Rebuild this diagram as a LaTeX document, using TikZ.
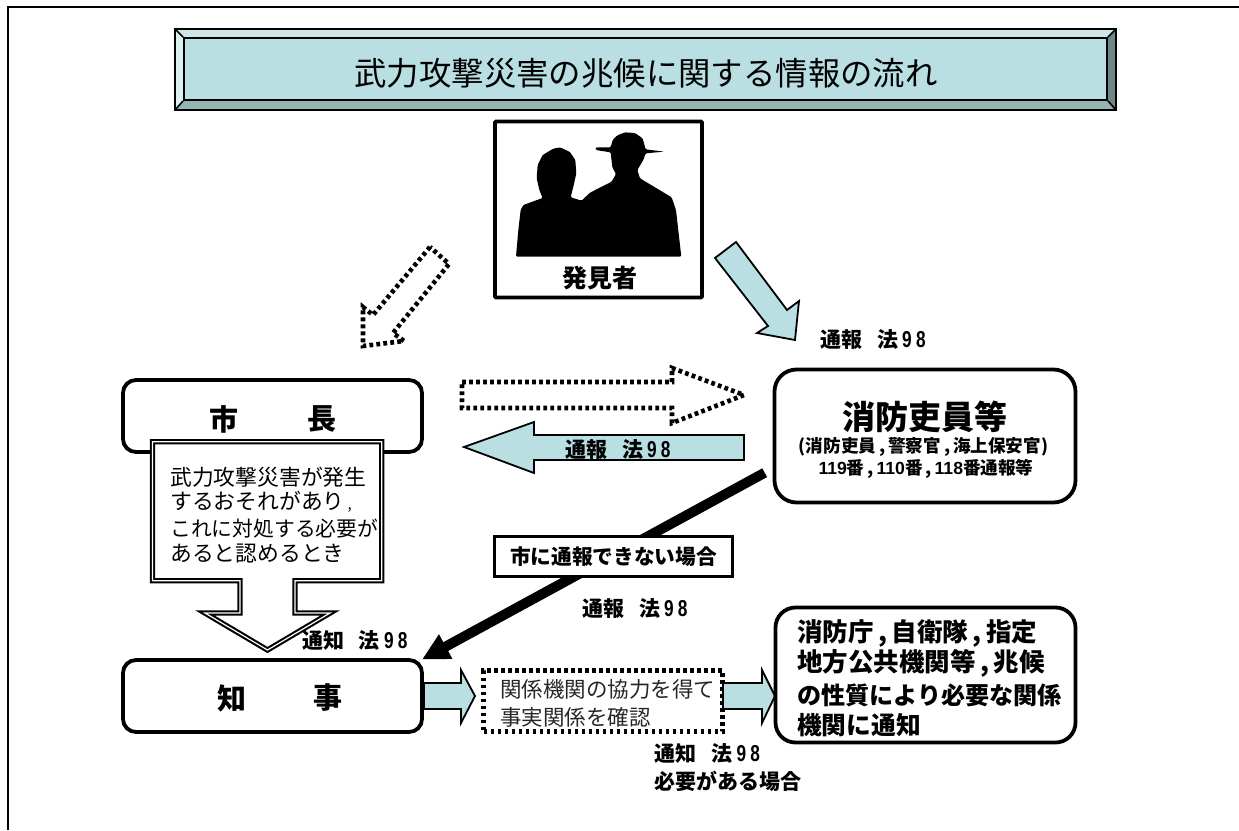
\documentclass[tikz,border=0pt]{standalone}
\usepackage{fontspec}
\usetikzlibrary{arrows.meta}
\setmainfont{Noto Sans CJK JP}
\newfontfamily\digitfont[FakeStretch=0.75]{Liberation Sans}
\newfontfamily\arialfont{Liberation Sans}
\definecolor{face}{HTML}{B9DFE3}
\definecolor{bevtop}{HTML}{CCE7E9}
\definecolor{bevleft}{HTML}{DCEFF1}
\definecolor{bevbot}{HTML}{97B2B5}
\definecolor{bevright}{HTML}{708587}
\newcommand{\fsz}[1]{\fontsize{#1pt}{#1pt}\selectfont}
\newcommand{\lawtext}[1]{\bfseries #1\hspace{15pt}法\hspace{4pt}{\digitfont\fsz{23}\makebox[14pt][l]{9}\makebox[10pt][l]{8}}}
\newcommand{\cm}{\hspace{4.5pt},\hspace{4.5pt}}
\tikzset{
  x=1pt,y=-1pt,
  roundbox/.style={draw=black,line width=3.8pt,fill=white,inner sep=0pt,align=center},
  dotline/.style={draw=black,line width=4.6pt,dash pattern=on 3.8pt off 3.2pt},
  cyanarrow/.style={draw=black,line width=1.8pt,fill=face,line join=miter},
  lawlabel/.style={inner sep=0pt,anchor=center,font=\fsz{21}},
  plain/.style={inner sep=0pt,anchor=west,align=left},
}
\begin{document}
\begin{tikzpicture}
\useasboundingbox (0,0) rectangle (1239,830);
\fill[white] (0,0) rectangle (1239,830);
% page frame
\draw[line width=2.6pt] (8,830) -- (8,7) -- (1239,7);
% title
\fill[bevtop] (175,29) -- (1116,29) -- (1107,38) -- (184,38) -- cycle;
\fill[bevleft] (175,29) -- (184,38) -- (184,100) -- (175,110) -- cycle;
\fill[bevbot] (175,110) -- (184,100) -- (1107,100) -- (1116,110) -- cycle;
\fill[bevright] (1116,29) -- (1107,38) -- (1107,100) -- (1116,110) -- cycle;
\draw[line width=2pt] (175,29) rectangle (1116,110);
\node[draw=black,line width=2pt,fill=face,minimum width=923pt,minimum height=62pt,inner sep=0pt] (title) at (645.5,69) {};
\node[inner sep=0pt,font=\fsz{32.4}] (titletext) at (646,73) {武力攻撃災害の兆候に関する情報の流れ};
\draw[line width=1.6pt] (175,29) -- (title.north west) (1116,29) -- (title.north east) (175,110) -- (title.south west) (1116,110) -- (title.south east);
% finder
\node[draw=black,line width=3.8pt,fill=white,rounded corners=1pt,minimum width=207pt,minimum height=176pt,inner sep=0pt] (finder) at (598.5,209.5) {};
\begin{scope}[shift={(480,110)},x=.3333pt,y=-.3333pt]
\fill[black,rounded corners=1.2pt] (108,440) -- (115,360) -- (122,300) -- (130,285) -- (188,264) -- (178,240) -- (170,205) -- (173,165) -- (188,135) -- (220,116) -- (240,112) -- (270,126) -- (286,150) -- (289,190) -- (280,230) -- (272,262) -- (305,272) -- (330,248) -- (395,215) -- (408,192) -- (397,172) -- (392,127) -- (347,120) -- (347,112) -- (392,112) -- (398,90) -- (412,76) -- (435,67) -- (465,69) -- (488,85) -- (497,118) -- (552,125) -- (497,130) -- (490,150) -- (472,180) -- (480,205) -- (575,262) -- (588,300) -- (604,440) -- cycle;
\end{scope}
\node[inner sep=0pt,font=\fsz{25}\bfseries] (findertext) at (600,278) {発見者};
% arrows at the top
\draw[dotline] (430,247) -- (373,315) -- (363,307) -- (363,346) -- (404,341) -- (393,333) -- (449,264) -- cycle;
\draw[cyanarrow] (715,258) -- (736,242) -- (787,310) -- (799,301) -- (795,340) -- (757,333) -- (768,326) -- cycle;
\node[lawlabel] (law1) at (873,340) {\lawtext{通報}};
% mayor
\node[roundbox,rounded corners=13pt,minimum width=299pt,minimum height=72pt] (mayor) at (272.5,416) {};
\node[inner sep=0pt,font=\fsz{29}\bfseries] (mayor1) at (224,419) {市};
\node[inner sep=0pt,font=\fsz{29}\bfseries] (mayor2) at (322,419) {長};
% callout arrow
\draw[line width=5.4pt,fill=white,line join=miter] (152.5,441.7) -- (381.7,441.7) -- (381.7,580.7) -- (295,580.7) -- (295,613) -- (330,613) -- (267.5,650) -- (205,613) -- (240,613) -- (240,580.7) -- (152.5,580.7) -- cycle;
\draw[line width=1.2pt,white,line join=miter] (152.5,441.7) -- (381.7,441.7) -- (381.7,580.7) -- (295,580.7) -- (295,613) -- (330,613) -- (267.5,650) -- (205,613) -- (240,613) -- (240,580.7) -- (152.5,580.7) -- cycle;
\node[plain,font=\fsz{21.8}] (cond) at (170,477) {武力攻撃災害が発生};
\node[plain,font=\fsz{21.8}] (cond2) at (170,502) {するおそれがあり\hspace{3pt}{\fsz{15},}};
\node[plain,font=\fsz{20.8}] (cond3) at (170,529) {これに対処する必要が};
\node[plain,font=\fsz{21.8}] (cond4) at (170,554) {あると認めるとき};
% middle arrows
\draw[dotline] (462,382) -- (672,382) -- (672,368) -- (744,395) -- (672,423) -- (672,408) -- (462,408) -- cycle;
\draw[cyanarrow] (464,447) -- (534,422) -- (534,435) -- (744,435) -- (744,460) -- (534,460) -- (534,473) -- cycle;
\node[lawlabel] (law2) at (618,450) {\lawtext{通報}};
% fire officers
\node[roundbox,rounded corners=22pt,minimum width=301pt,minimum height=133pt] (fire) at (925,436) {};
\node[inner sep=0pt,font=\fsz{33}\bfseries] (fire1) at (925,417) {消防吏員等};
\node[inner sep=0pt,font=\fsz{17.6}\bfseries] (fire2) at (923.5,447) {({}消防吏員\,,\,警察官\,,\,海上保安官)};
\node[inner sep=0pt,font=\fsz{17.6}\bfseries] (fire3) at (926,469) {{\arialfont 119}番\,,\,{\arialfont 110}番\,,\,{\arialfont 118}番通報等};
% verification arrow from the governor
\draw[cyanarrow] (424,683) -- (461,683) -- (461,670) -- (475,696) -- (461,723) -- (461,709) -- (424,709) -- cycle;
% governor
\node[roundbox,rounded corners=13pt,minimum width=299pt,minimum height=72pt] (gov) at (272.5,696) {};
\node[inner sep=0pt,font=\fsz{29}\bfseries] (gov1) at (232,698) {知};
\node[inner sep=0pt,font=\fsz{29}\bfseries] (gov2) at (328,698) {事};
% thick arrow
\coordinate (thickstart) at (764.7,472.7);
\coordinate (thickend) at (422,659.5);
\draw[line width=10pt,-{Triangle[length=27pt,width=26pt]}] (thickstart) -- (thickend);
\node[draw=black,line width=2.2pt,fill=white,minimum width=238pt,minimum height=40pt,inner sep=0pt,font=\fsz{20.7}\bfseries] (cannot) at (613.5,556.5) {市に通報できない場合};
\node[lawlabel] (law3) at (635,609) {\lawtext{通報}};
\node[lawlabel] (law4) at (355,641) {\lawtext{通知}};
% verification
\node[dotline,fill=white,minimum width=239pt,minimum height=61pt,inner sep=0pt] (check) at (603,701) {};
\node[plain,font=\fsz{21.5},text=black!85] (check1) at (500,689) {関係機関の協力を得て};
\node[plain,font=\fsz{21.5},text=black!85] (check2) at (500,717) {事実関係を確認};
\draw[cyanarrow] (723,683) -- (762,683) -- (762,670) -- (775,696) -- (762,723) -- (762,709) -- (723,709) -- cycle;
% notified
\node[roundbox,rounded corners=20pt,minimum width=300pt,minimum height=135pt] (notify) at (925.5,675) {};
\node[plain,font=\fsz{25.5}\bfseries] (n1) at (797,633) {消防庁\cm 自衛隊\cm 指定};
\node[plain,font=\fsz{25.5}\bfseries] (n2) at (797,663) {地方公共機関等\cm 兆候};
\node[plain,font=\fsz{24.1}\bfseries] (n3) at (797,695) {の性質により必要な関係};
\node[plain,font=\fsz{24.7}\bfseries] (n4) at (797,725) {機関に通知};
\node[lawlabel] (law5) at (707.5,754) {\lawtext{通知}};
\node[inner sep=0pt,anchor=west,font=\fsz{21}\bfseries] (need) at (654,781) {必要がある場合};
\end{tikzpicture}
\end{document}
